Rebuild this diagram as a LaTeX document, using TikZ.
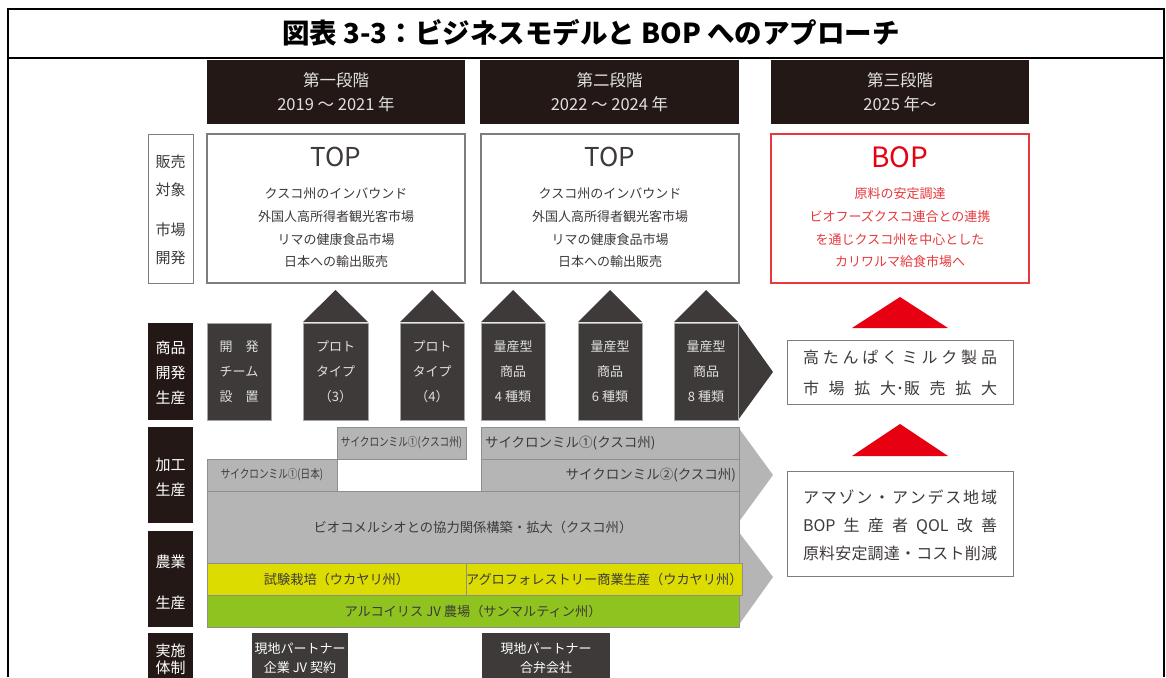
\documentclass[tikz,border=0pt]{standalone}
\usepackage{fontspec}
\setmainfont{Noto Sans CJK JP}
\definecolor{hdr}{HTML}{231815}
\definecolor{dk}{HTML}{3E3A39}
\definecolor{gy}{HTML}{B5B5B6}
\definecolor{gyline}{HTML}{8E8E8F}
\definecolor{yl}{HTML}{DCDC00}
\definecolor{gr}{HTML}{8FC31F}
\definecolor{rd}{HTML}{E60012}
\definecolor{rdt}{HTML}{E8383D}
\definecolor{bline}{HTML}{7D7D7D}
\definecolor{lt}{HTML}{E0E0E0}
\definecolor{txt}{HTML}{3E3A39}
\newcommand{\fsz}[2]{\fontsize{#1}{#2}\selectfont}
\newcommand{\narrow}[1]{\scalebox{0.8}[1]{#1}}
\tikzset{
  cell/.style={anchor=north west, inner sep=0pt, outer sep=0pt, align=center},
  frame/.style={line width=2.4pt, black},
  hdrbox/.style={cell, fill=hdr, text=lt, font=\fsz{16.5}{24}},
  topbox/.style={cell, draw=bline, line width=1.1pt, fill=white},
  redbox/.style={cell, draw=rdt, line width=1.1pt, fill=white},
  labw/.style={cell, draw=bline, line width=1pt, fill=white, minimum width=45pt},
  labd/.style={cell, fill=hdr, minimum width=45pt},
  labtxt/.style={inner sep=0pt, align=center, font=\fsz{15}{28}},
  dbox/.style={cell, fill=dk, draw=gray!70, line width=0.6pt, text=lt, font=\fsz{13}{25}, minimum height=97pt},
  roof/.style={fill=dk},
  gbox/.style={cell, fill=gy, draw=gyline, line width=0.6pt, text=txt, minimum height=32pt},
  chev/.style={fill=gy},
  ybox/.style={cell, fill=yl, draw=gyline, line width=0.6pt, text=txt, font=\fsz{13.2}{16}, minimum height=32pt},
  gnbox/.style={cell, fill=gr, draw=gyline, line width=0.6pt, text=txt, font=\fsz{13.2}{16}, minimum height=32pt},
  bbox/.style={cell, fill=dk, text=white, font=\fsz{13}{19}},
  wbox/.style={cell, draw=bline, line width=1pt, fill=white, minimum width=226pt},
  rtri/.style={fill=rd},
  bodytxt/.style={inner sep=0pt, align=center, text=txt, font=\fsz{13}{22.7}},
  wtxt/.style={inner sep=0pt, align=center, text=txt, font=\fsz{16}{31}}
}
\begin{document}
\begin{tikzpicture}[x=1pt,y=-1pt]
\useasboundingbox (0,0) rectangle (1166,677);
% frame and title
\draw[frame] (8,677) -- (8,9) -- (1164,9) -- (1164,677);
\draw[frame] (8,58) -- (1164,58);
\node[inner sep=0pt, font=\bfseries\fsz{27.5}{30}] (title) at (591,33) {図表 3-3：ビジネスモデルと BOP へのアプローチ};

% stage headers
\node[hdrbox, minimum width=258pt, minimum height=64pt] (h1) at (207,60) {第一段階\\2019 ～ 2021 年};
\node[hdrbox, minimum width=259pt, minimum height=64pt] (h2) at (480,60) {第二段階\\2022 ～ 2024 年};
\node[hdrbox, minimum width=258pt, minimum height=64pt] (h3) at (771,60) {第三段階\\2025 年～};

% market boxes
\node[topbox, minimum width=258pt, minimum height=149pt] (m1) at (207,134) {};
\node[inner sep=0pt, text=txt, font=\fsz{26}{30}] (m1t) at (336,157) {TOP};
\node[bodytxt] (m1b) at (336,228) {クスコ州のインバウンド\\外国人高所得者観光客市場\\リマの健康食品市場\\日本への輸出販売};
\node[topbox, minimum width=258pt, minimum height=149pt] (m2) at (481,134) {};
\node[inner sep=0pt, text=txt, font=\fsz{26}{30}] (m2t) at (610,157) {TOP};
\node[bodytxt] (m2b) at (610,228) {クスコ州のインバウンド\\外国人高所得者観光客市場\\リマの健康食品市場\\日本への輸出販売};
\node[redbox, minimum width=258pt, minimum height=149pt] (m3) at (771,134) {};
\node[inner sep=0pt, text=rd, font=\fsz{28}{30}] (m3t) at (900,157) {BOP};
\node[bodytxt, text=rdt] (m3b) at (900,228) {原料の安定調達\\ビオフーズクスコ連合との連携\\を通じクスコ州を中心とした\\カリワルマ給食市場へ};

% left labels
\node[labw, minimum height=149pt] (l1) at (148,134) {};
\node[labtxt, text=txt] (l1a) at (170.5,176) {販売\\対象};
\node[labtxt, text=txt] (l1b) at (170.5,244) {市場\\開発};
\node[labd, minimum height=97pt] (l2) at (148,323) {};
\node[labtxt, text=white, font=\fsz{15}{25}] (l2a) at (170.5,373) {商品\\開発\\生産};
\node[labd, minimum height=96pt] (l3) at (148,427) {};
\node[labtxt, text=white, font=\fsz{15}{25}] (l3a) at (170.5,477) {加工\\生産};
\node[labd, minimum height=96pt] (l4) at (148,531) {};
\node[labtxt, text=white] (l4a) at (170.5,562) {農業};
\node[labtxt, text=white] (l4b) at (170.5,603) {生産};
\node[labd, minimum height=62pt] (l5) at (148,633) {};
\node[labtxt, text=white, font=\fsz{15}{17}] (l5a) at (170.5,659) {実施\\体制};

% product development row
\node[dbox, minimum width=64pt] (p1) at (207,323) {開　発\\チーム\\設　置};
\fill[roof] (303,322) -- (335.5,290) -- (368,322) -- cycle;
\node[dbox, minimum width=65pt] (p2) at (303,323) {プロト\\タイプ\\（3）};
\fill[roof] (400,322) -- (432,290) -- (464,322) -- cycle;
\node[dbox, minimum width=64pt] (p3) at (400,323) {プロト\\タイプ\\（4）};
\fill[roof] (481,322) -- (513,290) -- (545,322) -- cycle;
\node[dbox, minimum width=64pt] (p4) at (481,323) {量産型\\商品\\4 種類};
\fill[roof] (578,322) -- (610,290) -- (642,322) -- cycle;
\node[dbox, minimum width=64pt] (p5) at (578,323) {量産型\\商品\\6 種類};
\fill[roof] (674,322) -- (706,290) -- (738,322) -- cycle;
\fill[roof] (738,323) -- (773,372) -- (738,420) -- cycle;
\node[dbox, minimum width=64pt] (p6) at (674,323) {量産型\\商品\\8 種類};

% processing rows
\fill[chev] (738,427) -- (773,475) -- (738,523) -- cycle;
\fill[chev] (738,531) -- (773,577) -- (738,626) -- cycle;
\node[gbox, minimum width=129pt, font=\fsz{12}{14}] (g1) at (337,427) {\narrow{サイクロンミル①(クスコ州)}};
\node[gbox, minimum width=130pt, font=\fsz{12}{14}] (g2) at (207,459) {\narrow{サイクロンミル①(日本)}};
\node[gbox, minimum width=258pt, font=\fsz{13.5}{16}, text width=250pt, align=left] (g3) at (481,427) {サイクロンミル①(クスコ州)};
\node[gbox, minimum width=258pt, font=\fsz{13.5}{16}, text width=252pt, align=right] (g4) at (481,459) {サイクロンミル②(クスコ州)};
\node[gbox, minimum width=532pt, minimum height=72pt, font=\fsz{13.3}{16}] (g5) at (207,491) {ビオコメルシオとの協力関係構築・拡大（クスコ州）};

% agriculture rows
\node[ybox, minimum width=259pt] (y1) at (207,563) {試験栽培（ウカヤリ州）};
\node[ybox, minimum width=273pt] (y2) at (466,563) {アグロフォレストリー商業生産（ウカヤリ州）};
\node[gnbox, minimum width=532pt] (gn) at (207,595) {アルコイリス JV 農場（サンマルティン州）};

% implementation row
\node[bbox, minimum width=96pt, minimum height=50pt] (b1) at (252,633) {現地パートナー\\企業 JV 契約};
\node[bbox, minimum width=128pt, minimum height=50pt] (b2) at (482,633) {現地パートナー\\合弁会社};

% right column
\fill[rtri] (852,328) -- (900,297) -- (948,328) -- cycle;
\node[wbox, minimum height=64pt] (r1) at (787,340) {};
\node[wtxt] (r1t) at (900,372.5) {\makebox[194pt][s]{高\hfil た\hfil ん\hfil ぱ\hfil く\hfil ミ\hfil ル\hfil ク\hfil 製\hfil 品}\\\makebox[194pt][s]{市\hfil 場\hfil 拡\hfil 大･販\hfil 売\hfil 拡\hfil 大}};
\fill[rtri] (852,456) -- (900,424) -- (948,456) -- cycle;
\node[wbox, minimum height=105pt] (r2) at (787,471) {};
\node[wtxt, font=\fsz{16}{28}] (r2t) at (900,525) {\makebox[194pt][s]{ア\hfil マ\hfil ゾ\hfil ン\hfil ・\hfil ア\hfil ン\hfil デ\hfil ス\hfil 地\hfil 域}\\\makebox[194pt][s]{BOP\hfil 生\hfil 産\hfil 者\hfil QOL\hfil 改\hfil 善}\\\makebox[194pt][s]{原\hfil 料\hfil 安\hfil 定\hfil 調\hfil 達\hfil ・\hfil コ\hfil ス\hfil ト\hfil 削\hfil 減}};
\end{tikzpicture}
\end{document}
